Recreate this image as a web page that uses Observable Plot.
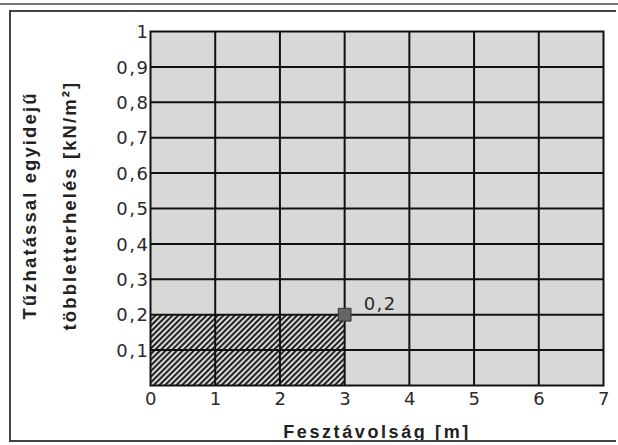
<!DOCTYPE html>
<html>
<head>
<meta charset="utf-8">
<script src="https://cdn.jsdelivr.net/npm/d3@7"></script>
<script src="https://cdn.jsdelivr.net/npm/@observablehq/plot@0.6"></script>
<style>
  html, body { margin: 0; padding: 0; background: #fff; }
  #wrap { position: relative; width: 618px; height: 445px; }
  #frame { position: absolute; left: 9px; top: 10px; width: 607px; height: 432px; border-left: 2px solid #444; border-top: 2px solid #444; border-bottom: 2px solid #444; box-sizing: border-box; pointer-events: none; }
  #topline { position: absolute; left: 0; top: 3px; width: 618px; height: 0; border-top: 2px solid #777; }
</style>
</head>
<body>
<div id="wrap"><div id="chart"></div><div id="frame"></div><div id="topline"></div></div>
<script>
const xTicks = [0, 1, 2, 3, 4, 5, 6, 7];
const yTicks = [0.1, 0.2, 0.3, 0.4, 0.5, 0.6, 0.7, 0.8, 0.9, 1];
const spanMax = 3;          // Fesztávolság [m]
const loadValue = 0.2;      // kN/m²
const pointLabel = "0,2";
const xLabel = "Fesztávolság [m]";
const yLabel = "Tűzhatással egyidejű\ntöbbletterhelés [kN/m²]";

const fmt = d => String(d).replace(".", ",");
const region = [{x1: 0, x2: spanMax, y1: 0, y2: loadValue}];
const point = [{x: spanMax, y: loadValue, label: pointLabel}];
const tickFont = "'DejaVu Sans', sans-serif";

const svg = Plot.plot({
  width: 618,
  height: 445,
  marginLeft: 150,
  marginRight: 15,
  marginTop: 31,
  marginBottom: 60,
  style: {fontFamily: "'Liberation Sans', Arial, sans-serif", fontSize: "19px", color: "#2a2a2a", background: "transparent"},
  x: {domain: [0, 7], label: null},
  y: {domain: [0, 1], label: null},
  marks: [
    Plot.frame({fill: "#d8d8d8"}),
    Plot.rect(region, {x1: "x1", x2: "x2", y1: "y1", y2: "y2", fill: "url(#hatch)"}),
    Plot.gridX(xTicks.slice(1, -1), {stroke: "#111", strokeOpacity: 1, strokeWidth: 2}),
    Plot.gridY(yTicks.slice(0, -1), {stroke: "#111", strokeOpacity: 1, strokeWidth: 2}),
    Plot.frame({stroke: "#111", strokeWidth: 2}),
    Plot.axisX({ticks: xTicks, tickFormat: fmt, tickSize: 0, tickPadding: 7, dx: 1, fontSize: 18, fontFamily: tickFont, fill: "#2a2a2a", label: null}),
    Plot.axisY({ticks: yTicks, tickFormat: fmt, tickSize: 0, tickPadding: 1, dx: 0, dy: 1, fontSize: 18, fontFamily: tickFont, fill: "#2a2a2a", label: null}),
    Plot.dot(point, {x: "x", y: "y", symbol: "square", r: 7.2, fill: "#666", stroke: "#333", strokeWidth: 1}),
    Plot.text(point, {x: "x", y: "y", text: "label", dx: 19, dy: -5, textAnchor: "start", lineAnchor: "bottom", fontSize: 18, fontFamily: tickFont, fill: "#2a2a2a"}),
    Plot.text([xLabel], {frameAnchor: "bottom", dy: 52, lineAnchor: "bottom", text: d => d, fontSize: 18, fontWeight: "bold", fill: "#222"}),
    Plot.text([yLabel], {frameAnchor: "left", dx: -107, dy: -3, rotate: -90, textAnchor: "middle", lineAnchor: "middle", lineHeight: 2.15, text: d => d, fontSize: 18.5, fontWeight: "bold", fill: "#222"})
  ]
});

const s = d3.select(svg);
const pat = s.insert("defs", ":first-child").append("pattern")
  .attr("id", "hatch").attr("patternUnits", "userSpaceOnUse")
  .attr("width", 4).attr("height", 4).attr("patternTransform", "rotate(45)");
pat.append("rect").attr("width", 4).attr("height", 4).attr("fill", "#e6e6e6");
pat.append("line").attr("x1", 1).attr("y1", 0).attr("x2", 1).attr("y2", 4).attr("stroke", "#222").attr("stroke-width", 2.3);

svg.querySelectorAll('g[aria-label="x-axis tick label"], g[aria-label="y-axis tick label"]').forEach(g => g.setAttribute("letter-spacing", "1.5"));
const textGroups = svg.querySelectorAll('g[aria-label="text"]');
textGroups[0].setAttribute("letter-spacing", "1.5");
textGroups[1].setAttribute("letter-spacing", "2.6");
textGroups[2].setAttribute("letter-spacing", "2.1");

document.getElementById("chart").appendChild(svg);
</script>
</body>
</html>
